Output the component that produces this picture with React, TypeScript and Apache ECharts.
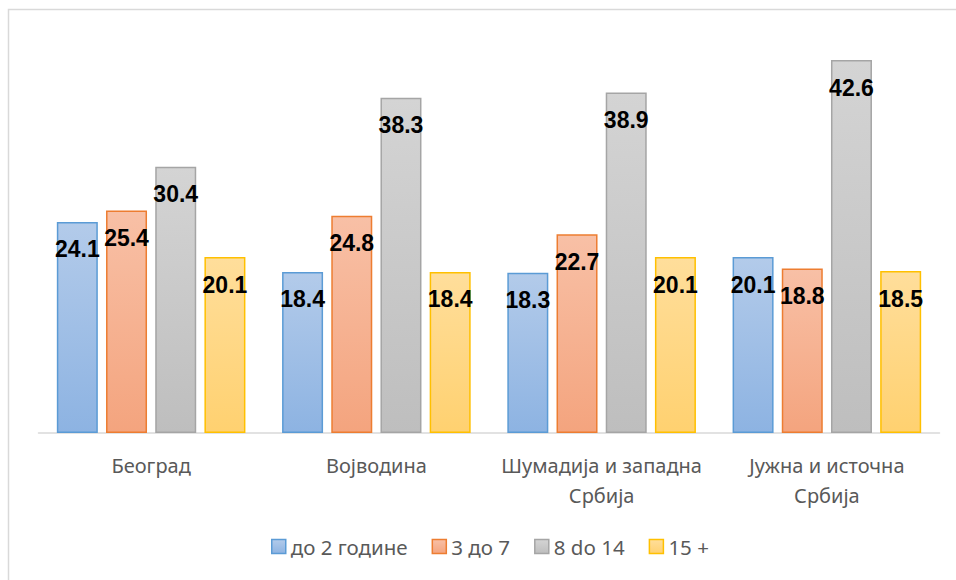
import React, { useEffect, useRef } from "react";
import * as echarts from "echarts";

const categories = ["Београд", "Војводина", "Шумадија и западна\nСрбија", "Јужна и источна\nСрбија"];
const seriesNames = ["до 2 године", "3 до 7", "8 do 14", "15 +"];
const s1 = [24.1, 18.4, 18.3, 20.1];
const s2 = [25.4, 24.8, 22.7, 18.8];
const s3 = [30.4, 38.3, 38.9, 42.6];
const s4 = [20.1, 18.4, 20.1, 18.5];
const seriesData = [s1, s2, s3, s4];

const topColors = ["#b3cbea", "#f8c0a6", "#d4d4d4", "#ffde9b"];
const bottomColors = ["#8db3e2", "#f4a47e", "#bebebe", "#ffd170"];
const borderColors = ["#5b9bd5", "#ed7d31", "#a5a5a5", "#ffc000"];

export default function App() {
  const ref = useRef<HTMLDivElement>(null);
  useEffect(() => {
    if (!ref.current) return;
    const chart = echarts.init(ref.current, undefined, { renderer: "svg" });
    const grad = (i: number) =>
      new echarts.graphic.LinearGradient(0, 0, 0, 1, [
        { offset: 0, color: topColors[i] },
        { offset: 1, color: bottomColors[i] },
      ]);
    chart.setOption({
      animation: false,
      backgroundColor: "#ffffff",
      graphic: [
        {
          type: "rect",
          shape: { x: 8.5, y: 9.5, width: 1200, height: 1200 },
          style: { fill: "none", stroke: "#d9d9d9", lineWidth: 1.5 },
          silent: true,
        },
      ],
      grid: { left: 38.5, right: 16.5, top: 39, bottom: 147 },
      legend: {
        left: 271,
        top: 536,
        padding: 0,
        itemWidth: 14,
        itemHeight: 14,
        itemGap: 24,
        textStyle: { color: "#595959", fontSize: 20.5, fontFamily: "Noto Sans" },
        data: seriesNames.map((n, i) => ({
          name: n,
          icon: "rect",
          itemStyle: { color: grad(i), borderColor: borderColors[i], borderWidth: 1.5 },
        })),
      },
      xAxis: {
        type: "category",
        data: categories,
        axisLine: { lineStyle: { color: "#d9d9d9", width: 1.5 } },
        axisTick: { show: false },
        axisLabel: {
          color: "#595959",
          fontSize: 20,
          fontFamily: "Noto Sans",
          lineHeight: 30,
          margin: 17,
          interval: 0,
        },
      },
      yAxis: {
        type: "value",
        min: 0,
        max: 45,
        show: false,
        splitLine: { show: false },
      },
      series: seriesData.map((d, i) => ({
        name: seriesNames[i],
        type: "bar",
        data: d,
        barWidth: 41,
        barGap: "20%",
        itemStyle: { color: grad(i), borderColor: borderColors[i], borderWidth: 1.5 },
        label: {
          show: true,
          position: "insideTop",
          distance: 16,
          color: "#000000",
          fontWeight: "bold",
          fontSize: 23,
          fontFamily: "Liberation Sans",
          formatter: (p: any) => p.value.toFixed(1),
        },
      })),
    });
    return () => chart.dispose();
  }, []);
  return (
    <div style={{ position: "absolute", left: 0, top: 0, width: 956, height: 580, overflow: "hidden" }}>
      <div ref={ref} style={{ width: 956, height: 580 }} />
    </div>
  );
}
